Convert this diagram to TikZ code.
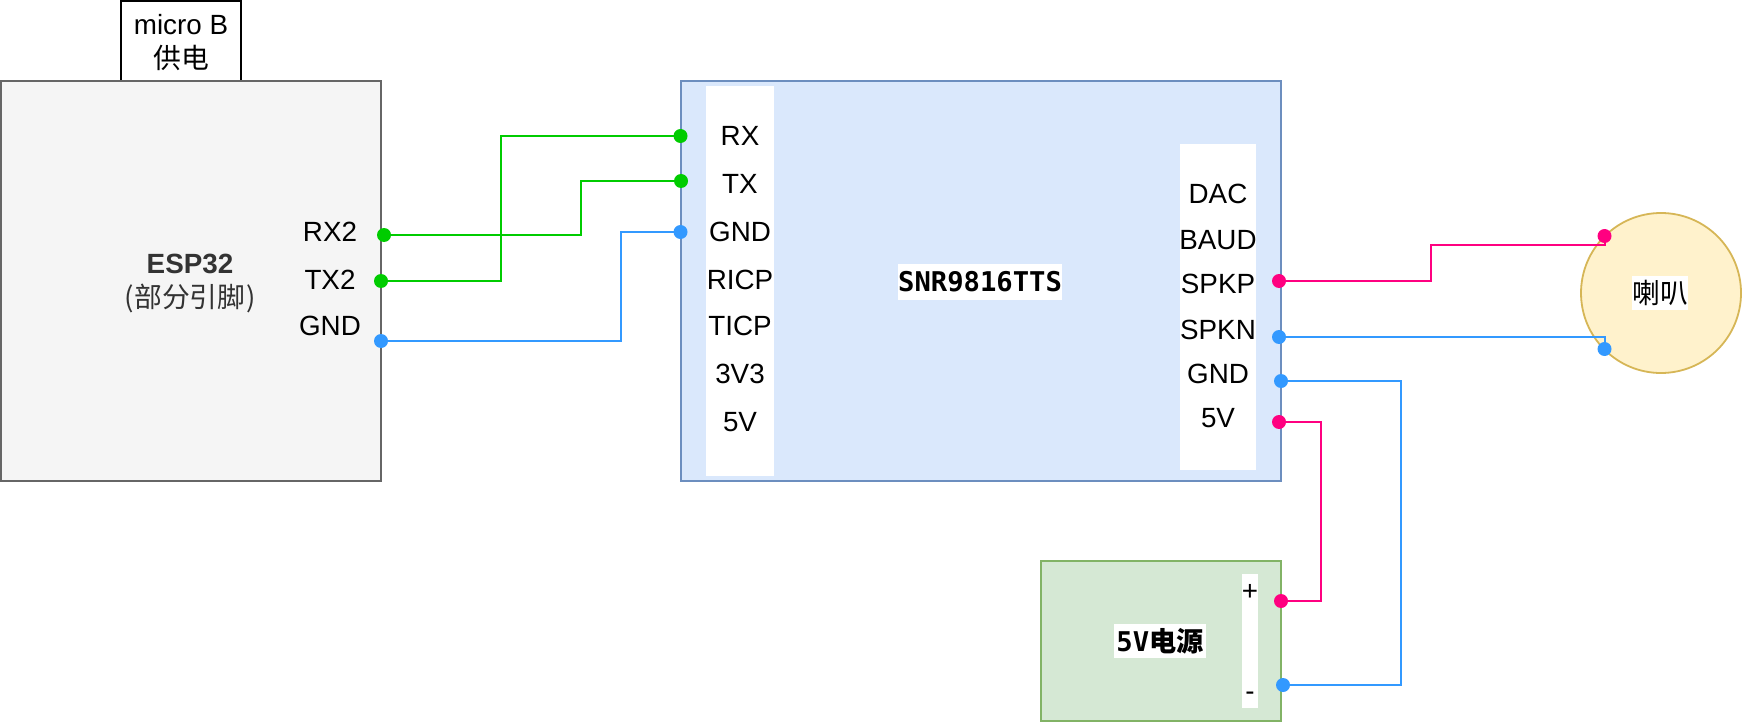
\documentclass[tikz,border=0pt]{standalone}
\usepackage{fontspec}
\setmainfont{Liberation Sans}
\setmonofont{DejaVu Sans Mono}
\newfontfamily\cjk{Noto Sans CJK SC}
\definecolor{pinkw}{HTML}{FF0080}
\definecolor{bluew}{HTML}{3399FF}
\definecolor{greenw}{HTML}{00CC00}
\definecolor{espfill}{HTML}{F5F5F5}
\definecolor{espline}{HTML}{666666}
\definecolor{snrfill}{HTML}{DAE8FC}
\definecolor{snrline}{HTML}{6C8EBF}
\definecolor{psufill}{HTML}{D5E8D4}
\definecolor{psuline}{HTML}{82B366}
\definecolor{spkfill}{HTML}{FFF2CC}
\definecolor{spkline}{HTML}{D6B656}
\definecolor{esptext}{HTML}{333333}
\tikzset{
  lab/.style={inner sep=0pt,font=\fontsize{27.8}{32}\selectfont},
  monolab/.style={inner sep=0pt,fill=white,font=\fontsize{27.2}{32}\selectfont\ttfamily\bfseries},
  strip/.style={fill=white,draw=none,inner sep=0pt,minimum width=#1},
  boxn/.style={inner sep=0pt,line width=1.8pt},
  dot/.style={circle,fill=#1,draw=none,inner sep=0pt,minimum size=14pt},
  wire/.style={line width=2pt,color=#1,line join=miter},
}
\begin{document}
\begin{tikzpicture}[x=1pt,y=-1pt]
\useasboundingbox (0,0) rectangle (1742,722);
% boxes
\node[boxn,draw=black,fill=white,minimum width=120pt,minimum height=80pt] (usb) at (181,41) {};
\node[boxn,draw=espline,fill=espfill,minimum width=380pt,minimum height=400pt] (esp) at (191,281) {};
\node[boxn,draw=snrline,fill=snrfill,minimum width=600pt,minimum height=400pt] (snr) at (981,281) {};
\node[boxn,draw=psuline,fill=psufill,minimum width=240pt,minimum height=160pt] (psu) at (1161,641) {};
\node[boxn,circle,draw=spkline,fill=spkfill,minimum size=160pt] (spk) at (1661,293) {};
% white strips
\node[strip=68pt,minimum height=390pt] (lstrip) at (740,281) {};
\node[strip=76pt,minimum height=326pt] (rstrip) at (1218,307) {};
\node[strip=16pt,minimum height=134pt] (pstrip) at (1250,641) {};
% titles
\node[lab,align=center] (usbtitle) at (181,43) {micro B\\[2pt]{\cjk 供电}};
\node[lab,align=center,text=esptext] (esptitle) at (190,284) {\textbf{ESP32}\\[2pt]{\cjk (\kern1pt 部分引脚\kern1pt )}};
\node[monolab,minimum width=164pt,minimum height=36pt] (snrtitle) at (980,282) {SNR9816TTS};
\node[monolab,minimum width=92pt,minimum height=34pt] (psutitle) at (1160,641) {5V{\cjk\bfseries 电源}};
\node[lab,fill=white,minimum width=56pt,minimum height=34pt] (spktitle) at (1660,293) {\cjk 喇叭};
% esp pins
\node[lab] (e1) at (330,232) {RX2};
\node[lab] (e2) at (330,280) {TX2};
\node[lab] (e3) at (330,326) {GND};
% snr left
\node[lab] (l1) at (740,136) {RX};
\node[lab] (l2) at (740,184) {TX};
\node[lab] (l3) at (740,232) {GND};
\node[lab] (l4) at (740,280) {RICP};
\node[lab] (l5) at (740,326) {TICP};
\node[lab] (l6) at (740,374) {3V3};
\node[lab] (l7) at (740,422) {5V};
% snr right
\node[lab] (r1) at (1218,194) {DAC};
\node[lab] (r2) at (1218,240) {BAUD};
\node[lab] (r3) at (1218,284) {SPKP};
\node[lab] (r4) at (1218,330) {SPKN};
\node[lab] (r5) at (1218,374) {GND};
\node[lab] (r6) at (1218,418) {5V};
% psu
\node[lab] (pp) at (1250,592) {+};
\node[lab] (pm) at (1250,696) {-};
% dots
\node[dot=greenw] (de1) at (384,235) {};
\node[dot=greenw] (de2) at (381,281) {};
\node[dot=bluew] (de3) at (381,341) {};
\node[dot=greenw] (dl1) at (680.5,136) {};
\node[dot=greenw] (dl2) at (681,181) {};
\node[dot=bluew] (dl3) at (680.5,232) {};
\node[dot=pinkw] (dr3) at (1279,281) {};
\node[dot=bluew] (dr4) at (1279,337) {};
\node[dot=bluew] (dr5) at (1281,381) {};
\node[dot=pinkw] (dr6) at (1279,422) {};
\node[dot=pinkw] (ds1) at (1604.5,236) {};
\node[dot=bluew] (ds2) at (1604.5,349) {};
\node[dot=pinkw] (dpp) at (1281,601) {};
\node[dot=bluew] (dpm) at (1283,685) {};
% route coordinates
\coordinate (j1) at (581,0);
\coordinate (j2) at (501,0);
\coordinate (j3) at (621,0);
\coordinate (j4) at (1431,0);
\coordinate (j4b) at (0,245);
\coordinate (j5) at (1401,0);
\coordinate (j6) at (1321,0);
% wires
\draw[wire=greenw] (de1.center) -- (de1.center -| j1) -- (dl2.center -| j1) -- (dl2.center);
\draw[wire=greenw] (de2.center) -- (de2.center -| j2) -- (dl1.center -| j2) -- (dl1.center);
\draw[wire=bluew] (de3.center) -- (de3.center -| j3) -- (dl3.center -| j3) -- (dl3.center);
\draw[wire=pinkw] (dr3.center) -- (dr3.center -| j4) -- (j4 |- j4b) -- (ds1.center |- j4b) -- (ds1.center);
\draw[wire=bluew] (dr4.center) -- (dr4.center -| ds2.center) -- (ds2.center);
\draw[wire=bluew] (dr5.center) -- (dr5.center -| j5) -- (dpm.center -| j5) -- (dpm.center);
\draw[wire=pinkw] (dr6.center) -- (dr6.center -| j6) -- (dpp.center -| j6) -- (dpp.center);
\end{tikzpicture}
\end{document}
